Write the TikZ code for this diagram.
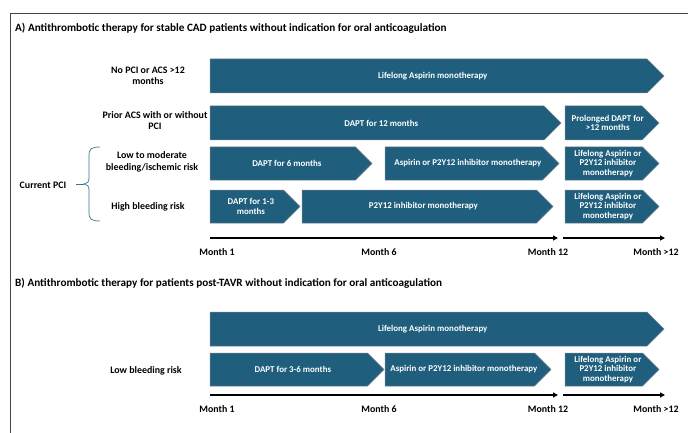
\documentclass[tikz,border=0pt]{standalone}
\usepackage{fontspec}
\setmainfont{Carlito}
\usetikzlibrary{arrows.meta}
\definecolor{boxfill}{RGB}{31,94,124}
\definecolor{boxline}{RGB}{120,130,140}
\definecolor{bracecol}{RGB}{50,120,140}
\definecolor{framecol}{RGB}{60,72,88}
\tikzset{
  boxshape/.style={fill=boxfill, draw=boxline, line width=0.5pt},
  boxtext/.style={text=white, font=\fontsize{8.9}{9.5}\selectfont\bfseries, align=center, inner sep=0pt},
  lbl/.style={font=\fontsize{9.9}{11.5}\selectfont\bfseries, align=center, inner sep=0pt},
  ttl/.style={font=\fontsize{11.2}{13}\selectfont\bfseries, anchor=west, inner sep=0pt},
  axis/.style={line width=1.4pt, -{Triangle[length=5pt,width=5pt]}},
}
% name, left x, tip x, top y, bottom y, text
\newcommand{\harr}[6]{%
  \pgfmathsetmacro{\hd}{(#5-#4)/2}%
  \draw[boxshape] (#2,#4) -- ({#3-\hd},#4) -- (#3,{(#4+#5)/2}) -- ({#3-\hd},#5) -- (#2,#5) -- cycle;
  \node[boxtext] (#1) at ({(#2+#3-\hd/2)/2},{(#4+#5)/2}) {#6};}
\begin{document}
\begin{tikzpicture}[x=1pt,y=-1pt]
\useasboundingbox (0,0) rectangle (688,433);
% frame
\draw[framecol, line width=0.8pt] (10,433) -- (10,13) -- (688,13);
% titles
\node[ttl] (tA) at (15,28) {A) Antithrombotic therapy for stable CAD patients without indication for oral anticoagulation};
\node[ttl] (tB) at (15,283) {B) Antithrombotic therapy for patients post-TAVR without indication for oral anticoagulation};
% section A rows
\harr{a1}{210}{664}{59}{93}{Lifelong Aspirin monotherapy}
\harr{a2a}{210}{561}{106}{140}{DAPT for 12 months}
\harr{a2b}{565}{659}{106}{140}{Prolonged DAPT for\\>12 months}
\harr{a3a}{210}{372}{147}{180}{DAPT for 6 months}
\harr{a3b}{385}{559}{147}{180}{Aspirin or P2Y12 inhibitor monotherapy}
\harr{a3c}{565}{659}{147}{180}{Lifelong Aspirin or\\P2Y12 inhibitor\\monotherapy}
\harr{a4a}{210}{300}{190}{223}{DAPT for 1-3\\months}
\harr{a4b}{302}{553}{190}{223}{P2Y12 inhibitor monotherapy}
\harr{a4c}{565}{659}{190}{223}{Lifelong Aspirin or\\P2Y12 inhibitor\\monotherapy}
% labels A
\node[lbl] (l1) at (148,76) {No PCI or ACS >12\\months};
\node[lbl] (l2) at (155,120.5) {Prior ACS with or without\\PCI};
\node[lbl] (l3) at (152,162) {Low to moderate\\bleeding/ischemic risk};
\node[lbl] (l4) at (148,207) {High bleeding risk};
\node[lbl] (cp) at (43,185) {Current PCI};
% brace
\coordinate (bt) at (100,147);
\coordinate (bb) at (100,221);
\coordinate (bm) at (76,184);
\draw[bracecol, line width=0.7pt] (bt) .. controls (91,147) and (89,149) .. (89,156) -- (89,178) .. controls (89,182) and (87,184) .. (84,184) .. controls (87,184) and (89,186) .. (89,190) -- (89,212) .. controls (89,219) and (91,221) .. (bb);
\draw[bracecol, line width=0.7pt] (bm) -- (84,184);
% axis A
\coordinate (ax1s) at (210,238);
\coordinate (ax1e) at (558,238);
\coordinate (ax2s) at (563,238);
\coordinate (ax2e) at (665,238);
\draw[axis] (ax1s) -- (ax1e);
\draw[axis] (ax2s) -- (ax2e);
\node[lbl] (m1) at (217,252) {Month 1};
\node[lbl] (m6) at (379,252) {Month 6};
\node[lbl] (m12) at (548,252) {Month 12};
\node[lbl] (m13) at (656,252) {Month >12};
% section B rows
\harr{b1}{210}{664}{312}{346}{Lifelong Aspirin monotherapy}
\harr{b2a}{210}{384}{353}{386}{DAPT for 3-6 months}
\harr{b2b}{385}{551}{353}{386}{Aspirin or P2Y12 inhibitor monotherapy}
\harr{b2c}{565}{659}{353}{386}{Lifelong Aspirin or\\P2Y12 inhibitor\\monotherapy}
\node[lbl] (lb) at (146,371) {Low bleeding risk};
% axis B
\coordinate (bx1s) at (210,395);
\coordinate (bx1e) at (558,395);
\coordinate (bx2s) at (563,395);
\coordinate (bx2e) at (665,395);
\draw[axis] (bx1s) -- (bx1e);
\draw[axis] (bx2s) -- (bx2e);
\node[lbl] (n1) at (217,409) {Month 1};
\node[lbl] (n6) at (379,409) {Month 6};
\node[lbl] (n12) at (548,409) {Month 12};
\node[lbl] (n13) at (656,409) {Month >12};
\end{tikzpicture}
\end{document}
